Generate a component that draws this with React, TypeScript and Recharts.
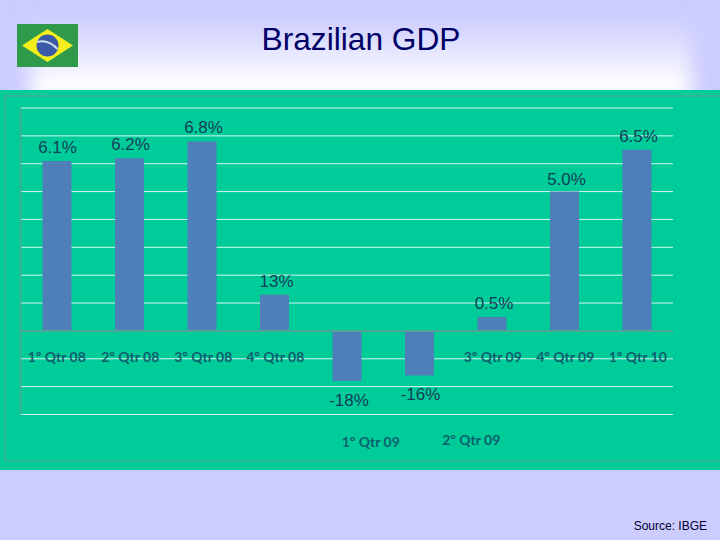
import React from 'react';
import { BarChart, Bar, XAxis, YAxis, CartesianGrid, ReferenceLine, LabelList } from 'recharts';

const quarters = ['1º Qtr 08', '2º Qtr 08', '3º Qtr 08', '4º Qtr 08', '1º Qtr 09', '2º Qtr 09', '3º Qtr 09', '4º Qtr 09', '1º Qtr 10'];
const gdpValues = [6.1, 6.2, 6.8, 1.3, -1.8, -1.6, 0.5, 5.0, 6.5];
const valueLabels = ['6.1%', '6.2%', '6.8%', '13%', '-18%', '-16%', '0.5%', '5.0%', '6.5%'];
const yTicks = [-3, -2, -1, 0, 1, 2, 3, 4, 5, 6, 7, 8];

// the labels were dragged by hand in the original slide
const labelDx = [0.5, 1, 1.5, 2, 2, 1, 2, 2, 1.5];
const labelDy = [-8, -8, -8, -8, 75, 69, -8, -7, -8];
const tickDx = [0, 1, 1.5, 1, 24, 52, 1, 1, 1];
const tickBaseline = [362, 362, 362, 362, 447, 445, 362, 362, 362];

const data = quarters.map((quarter, i) => ({ quarter, gdp: gdpValues[i] }));

const renderLabel = (props: any) => {
  const { x, y, width, height, index } = props;
  const top = Math.min(y, y + height);
  return (
    <text
      x={x + width / 2 + labelDx[index]}
      y={top + labelDy[index]}
      textAnchor="middle"
      fontFamily="'Liberation Sans', Arial, sans-serif"
      fontSize={17}
      fill="#123f58"
    >
      {valueLabels[index]}
    </text>
  );
};

const renderTick = (props: any) => {
  const { x, payload, index } = props;
  return (
    <text
      x={x + tickDx[index]}
      y={tickBaseline[index]}
      textAnchor="middle"
      fontFamily="Lato, sans-serif"
      fontWeight={700}
      fontSize={14}
      fill="#0d5f6e"
    >
      {payload.value}
    </text>
  );
};

const emptyTick = () => <g />;

const Flag = () => (
  <svg width={61} height={43} style={{ position: 'absolute', left: 17, top: 24 }}>
    <rect width={61} height={43} fill="#2f9a4a" />
    <polygon points="5,21.5 30.5,5 56,21.5 30.5,38" fill="#f4ee1c" />
    <circle cx={30.5} cy={21.5} r={11} fill="#3a5aa8" />
    <path d="M20 18 Q31 15 40.5 25" stroke="#cfe0ea" strokeWidth={2} fill="none" />
  </svg>
);

const App = () => {
  return (
    <div style={{ position: 'relative', width: 720, height: 540, overflow: 'hidden', background: '#ccccff' }}>
      <style>{'body { margin: 0; }'}</style>
      <div
        style={{
          position: 'absolute',
          left: 30,
          top: -30,
          width: 662,
          height: 135,
          background: 'linear-gradient(to bottom, #ccccff 35%, #ffffff 86%)',
          filter: 'blur(10px)',
        }}
      />
      <div style={{ position: 'absolute', left: 0, top: 90, width: 720, height: 380, background: '#00cc99' }} />
      <div
        style={{
          position: 'absolute',
          left: 4,
          top: 95,
          width: 730,
          height: 367,
          border: '2px solid #2fb596',
          boxSizing: 'border-box',
        }}
      />
      <Flag />
      <div
        style={{
          position: 'absolute',
          left: 0,
          top: 21,
          width: 722,
          textAlign: 'center',
          fontFamily: "'Liberation Sans', Arial, sans-serif",
          fontSize: 31.7,
          lineHeight: '37px',
          color: '#000066',
        }}
      >
        Brazilian GDP
      </div>
      <div
        style={{
          position: 'absolute',
          right: 13,
          top: 519,
          fontFamily: "'Liberation Sans', Arial, sans-serif",
          fontSize: 12,
          lineHeight: '14px',
          color: '#000033',
        }}
      >
        Source: IBGE
      </div>
      <div style={{ position: 'absolute', left: 0, top: 0 }}>
        <BarChart width={720} height={540} data={data} margin={{ top: 108, right: 47, bottom: 124.5, left: 19.5 }}>
          <CartesianGrid horizontal vertical={false} stroke="#d6f7ee" strokeWidth={1} />
          <XAxis dataKey="quarter" height={1} axisLine={false} tickLine={false} interval={0} tick={renderTick} />
          <YAxis
            domain={[-3, 8]}
            ticks={yTicks}
            width={1}
            tick={emptyTick}
            tickLine={false}
            axisLine={{ stroke: '#4fa596', strokeWidth: 1.5 }}
          />
          <ReferenceLine y={0} stroke="#4fa596" strokeWidth={2} />
          <Bar dataKey="gdp" fill="#4f7fb8" barSize={29} isAnimationActive={false}>
            <LabelList dataKey="gdp" content={renderLabel} />
          </Bar>
        </BarChart>
      </div>
    </div>
  );
};

export default App;
